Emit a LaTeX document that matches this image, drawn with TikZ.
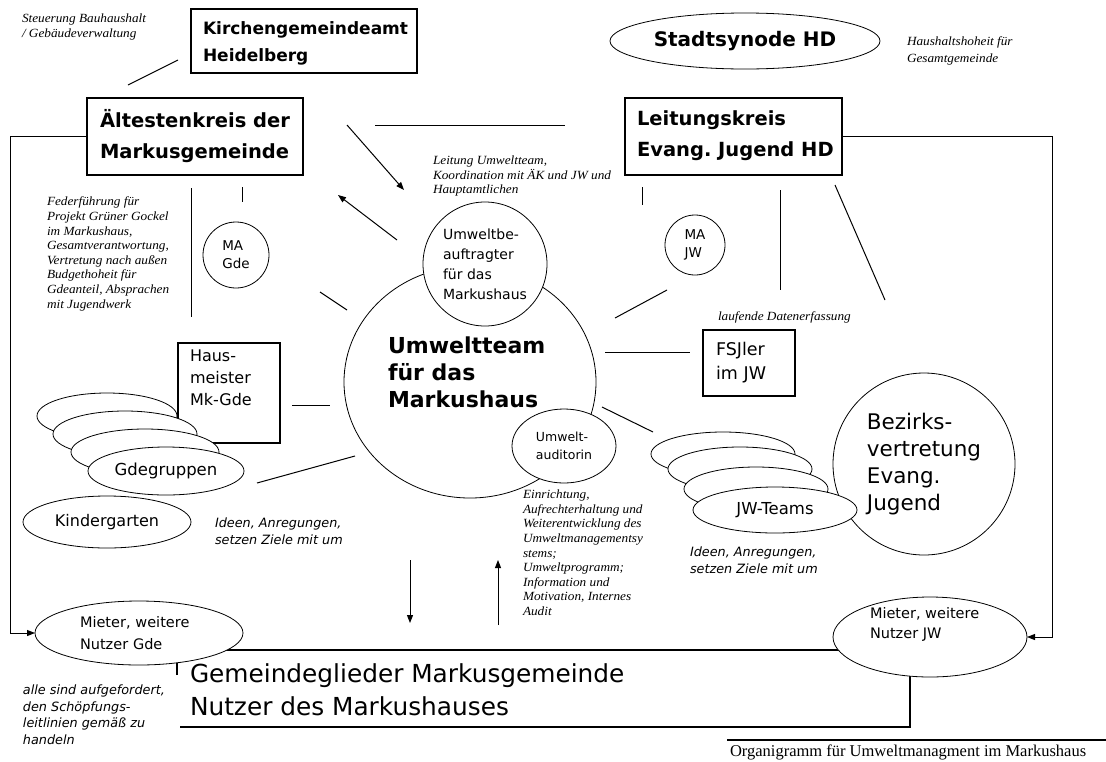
\documentclass[tikz,border=0pt]{standalone}
\usepackage{fontspec}
\setmainfont{DejaVu Sans}
\newfontfamily\serifit{Liberation Serif}[FakeStretch=1.06]
\newfontfamily\serifrm{Liberation Serif}
\usetikzlibrary{shapes.geometric,arrows.meta}
\begin{document}
\begin{tikzpicture}[x=1pt,y=-1pt,
 every node/.style={inner sep=0pt, outer sep=0pt},
 bx/.style={draw, line width=1.3pt, align=left},
 el/.style={ellipse, draw, line width=0.8pt, fill=white, align=left},
 ci/.style={circle, draw, line width=0.8pt, fill=white, align=left},
 ln/.style={line width=1pt},
 ar/.style={line width=1pt, -{Triangle[length=8pt,width=6pt]}},
 sn/.style={anchor=north west, align=left, font=\serifit\itshape\fontsize{12.5}{14.6}\selectfont},
 tn/.style={anchor=north west, align=left, font=\itshape\fontsize{12.8}{16.5}\selectfont},
 bt/.style={anchor=west, align=left, font=\bfseries\fontsize{19.5}{31}\selectfont},
]
\useasboundingbox (0,0) rectangle (1106,761);

% --- Gemeindeglieder frame (partly hidden by the ellipses)
\coordinate (g1) at (177,675); \coordinate (g2) at (177,650);
\coordinate (g3) at (910,650); \coordinate (g4) at (910,727); \coordinate (g5) at (180,727);
\draw[line width=1.3pt] (g1) -- (g2) -- (g3) -- (g4) -- (g5);
\node[anchor=north west, align=left, font=\fontsize{24.8}{33}\selectfont] (gg) at (190,664)
 {Gemeindeglieder Markusgemeinde\\Nutzer des Markushauses};

% --- top row
\node[sn, font=\serifit\itshape\fontsize{12.5}{15}\selectfont] (steu) at (22,14) {Steuerung Bauhaushalt\\/ Gebäudeverwaltung};
\node[bx, minimum width=226pt, minimum height=64pt] (kga) at (304,41) {};
\node[anchor=west, align=left, font=\bfseries\fontsize{17}{27}\selectfont] (kgat) at (203,43) {Kirchengemeindeamt\\Heidelberg};
\node[el, minimum width=270pt, minimum height=56pt, font=\bfseries\fontsize{20}{24}\selectfont] (syn) at (745,41) {Stadtsynode HD};
\node[sn, font=\serifit\itshape\fontsize{12.5}{17}\selectfont] (haus) at (907,37) {Haushaltshoheit für\\Gesamtgemeinde};
\coordinate (s1) at (128,85); \coordinate (s2) at (178,60);
\draw[ln] (s1) -- (s2);

\node[bx, minimum width=216pt, minimum height=77pt] (aek) at (195,136.5) {};
\node[bt] (aekt) at (100,136) {Ältestenkreis der\\Markusgemeinde};
\node[bx, minimum width=217pt, minimum height=77pt] (lkj) at (733.5,136.5) {};
\node[bt] (lkjt) at (637,136) {Leitungskreis\\Evang.\ Jugend HD};
\coordinate (m1) at (375,125); \coordinate (m2) at (565,125);
\draw[ln] (m1) -- (m2);

% --- notes
\node[sn] (fed) at (47,197) {Federführung für\\Projekt Grüner Gockel\\im Markushaus,\\Gesamtverantwortung,\\Vertretung nach außen\\Budgethoheit für\\Gdeanteil, Absprachen\\mit Jugendwerk};
\node[sn] (leit) at (433,156) {Leitung Umweltteam,\\Koordination mit ÄK und JW und\\Hauptamtlichen};
\node[sn] (lauf) at (718,312) {laufende Datenerfassung};
\node[sn] (einr) at (523,490) {Einrichtung,\\Aufrechterhaltung und\\Weiterentwicklung des\\Umweltmanagementsy\\stems;\\Umweltprogramm;\\Information und\\Motivation, Internes\\Audit};
\node[tn] (ide1) at (215,518) {Ideen, Anregungen,\\setzen Ziele mit um};
\node[tn] (ide2) at (690,547) {Ideen, Anregungen,\\setzen Ziele mit um};
\node[tn] (alle) at (23,685) {alle sind aufgefordert,\\den Schöpfungs-\\leitlinien gemäß zu\\handeln};

% --- central team
\node[el, minimum width=252pt, minimum height=232pt] (team) at (470,382) {};
\node[anchor=west, align=left, font=\bfseries\fontsize{22}{27}\selectfont] (teamt) at (388,372) {Umweltteam\\für das\\Markushaus};
\node[ci, minimum size=124pt, font=\fontsize{14}{20}\selectfont] (ubea) at (485,264) {Umweltbe-\\auftragter\\für das\\Markushaus};
\node[el, minimum width=104pt, minimum height=74pt, font=\fontsize{12.5}{18}\selectfont] (aud) at (564,446) {Umwelt-\\auditorin};

% --- arrows at the top
\coordinate (a1s) at (347,125); \coordinate (a1e) at (404,190);
\coordinate (a2s) at (397,240); \coordinate (a2e) at (338,195);
\draw[ar] (a1s) -- (a1e);
\draw[ar] (a2s) -- (a2e);

% --- left side
\coordinate (t1a) at (242,187); \coordinate (t1b) at (242,202);
\draw[ln] (t1a) -- (t1b);
\coordinate (v1a) at (191,188); \coordinate (v1b) at (191,317);
\draw[ln] (v1a) -- (v1b);
\node[ci, minimum size=66pt, font=\fontsize{13.5}{18}\selectfont] (magde) at (236,255) {MA\\Gde};
\coordinate (l1a) at (320,292); \coordinate (l1b) at (347,310);
\draw[ln] (l1a) -- (l1b);

\node[bx, minimum width=102pt, minimum height=100pt] (hm) at (229,393) {};
\node[anchor=north west, align=left, font=\fontsize{16}{22}\selectfont] (hmt) at (190,350) {Haus-\\meister\\Mk-Gde};
\coordinate (l2a) at (292,405); \coordinate (l2b) at (330,405);
\draw[ln] (l2a) -- (l2b);

\node[el, minimum width=140pt, minimum height=46pt] (e1) at (107,416) {};
\node[el, minimum width=144pt, minimum height=46pt] (e2) at (125,434) {};
\node[el, minimum width=148pt, minimum height=46pt] (e3) at (145,452) {};
\node[el, minimum width=156pt, minimum height=48pt, font=\fontsize{16.5}{18}\selectfont] (gdeg) at (166,471) {Gdegruppen};
\coordinate (l3a) at (257,483); \coordinate (l3b) at (355,456);
\draw[ln] (l3a) -- (l3b);
\node[el, minimum width=168pt, minimum height=52pt, font=\fontsize{16}{18}\selectfont] (kiga) at (107,522) {Kindergarten};

% --- right side
\coordinate (t2a) at (642,187); \coordinate (t2b) at (642,205);
\draw[ln] (t2a) -- (t2b);
\node[ci, minimum size=60pt, font=\fontsize{13.5}{18}\selectfont] (majw) at (695,245) {MA\\JW};
\coordinate (v2a) at (780,190); \coordinate (v2b) at (780,290);
\draw[ln] (v2a) -- (v2b);
\coordinate (d1a) at (835,185); \coordinate (d1b) at (885,300);
\draw[ln] (d1a) -- (d1b);
\coordinate (l4a) at (667,290); \coordinate (l4b) at (615,318);
\draw[ln] (l4a) -- (l4b);

\node[bx, minimum width=92pt, minimum height=66pt, text width=66pt, font=\fontsize{17.5}{24}\selectfont] (fsj) at (749,363) {FSJler\\im JW};
\coordinate (l5a) at (605,352); \coordinate (l5b) at (690,352);
\draw[ln] (l5a) -- (l5b);

\node[ci, minimum size=182pt, font=\fontsize{21.5}{27}\selectfont] (bez) at (924,464) {Bezirks-\\vertretung\\Evang.\\Jugend};

\coordinate (l6a) at (602,407); \coordinate (l6b) at (653,432);
\draw[ln] (l6a) -- (l6b);
\node[el, minimum width=144pt, minimum height=44pt] (j1) at (723,454) {};
\node[el, minimum width=144pt, minimum height=44pt] (j2) at (740,469) {};
\node[el, minimum width=144pt, minimum height=44pt] (j3) at (756,489) {};
\node[el, minimum width=164pt, minimum height=46pt, font=\fontsize{16.5}{18}\selectfont] (jwt) at (775,510) {JW-Teams};

% --- vertical arrows to the members
\coordinate (d2a) at (410,560); \coordinate (d2b) at (410,623);
\draw[ar] (d2a) -- (d2b);
\coordinate (u1a) at (498,625); \coordinate (u1b) at (498,560);
\draw[ar] (u1a) -- (u1b);

% --- users
\node[el, minimum width=208pt, minimum height=64pt, text width=118pt, font=\fontsize{14.5}{22}\selectfont] (mgde) at (139,633) {Mieter, weitere\\Nutzer Gde};
\node[el, minimum width=194pt, minimum height=80pt] (mjw) at (930,637) {};
\node[anchor=north west, align=left, font=\fontsize{14.5}{20}\selectfont] (mjwt) at (870,607) {Mieter, weitere\\Nutzer JW};

\draw[ar] (aek.west) -- ++(-77,0) |- (mgde.west);
\draw[ar] (lkj.east) -- ++(210,0) |- (mjw.east);

% --- caption
\coordinate (c1) at (727,740); \coordinate (c2) at (1106,740);
\draw[line width=1.2pt] (c1) -- (c2);
\node[anchor=north west, font=\serifrm\fontsize{16.5}{18}\selectfont] (cap) at (730,745) {Organigramm für Umweltmanagment im Markushaus};
\end{tikzpicture}
\end{document}
